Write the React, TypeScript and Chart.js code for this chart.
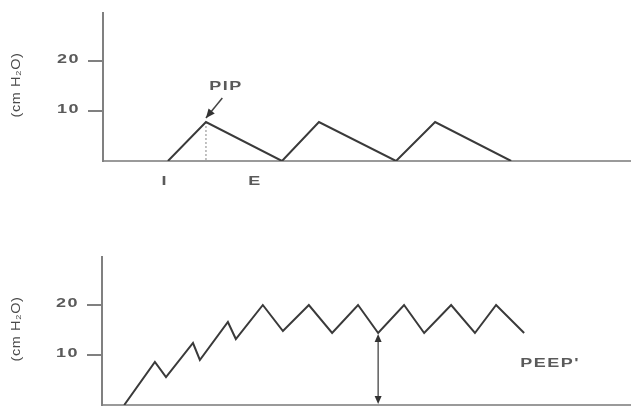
import React, { useEffect, useRef } from "react";
import { Chart, registerables } from "chart.js";

Chart.register(...registerables);

// ---- data ----
const yTicks = [10, 20];
const yTitle = "(cm H₂O)";

// top panel: PIP waveform
const topTimes = [1.23, 1.95, 3.39, 4.09, 5.55, 6.29, 7.73];
const topPressure = [0, 7.8, 0, 7.8, 0, 7.8, 0];
const pipTime = 1.95;
const pipPressure = 7.8;
const phaseLabels = ["I", "E"];
const phaseTimes = [1.17, 2.88];

// bottom panel: breath stacking / auto-PEEP
const bottomTimes = [0.42, 1.0, 1.21, 1.72, 1.85, 2.38, 2.53, 3.04, 3.42, 3.91, 4.35, 4.84, 5.22, 5.71, 6.09, 6.6, 7.05, 7.45, 7.98];
const bottomPressure = [0, 8.6, 5.6, 12.4, 9.0, 16.6, 13.2, 20, 14.8, 20, 14.4, 20, 14.4, 20, 14.4, 20, 14.4, 20, 14.4];
const peepTime = 5.22;
const peepPressure = 14.4;

const FONT = "'Liberation Sans', Arial, sans-serif";
const LINE = "#3a3a3a";
const AXIS = "#808080";
const TEXT = "#5a5a5a";

function wideText(
  ctx: CanvasRenderingContext2D,
  text: string,
  x: number,
  y: number,
  opts: { size?: number; sx?: number; align?: CanvasTextAlign; rot?: number; spacing?: number; color?: string; weight?: string } = {}
) {
  const { size = 12, sx = 1.5, align = "center", rot = 0, spacing = 1, color = TEXT, weight = "bold" } = opts;
  ctx.save();
  ctx.translate(x, y);
  if (rot) ctx.rotate(rot);
  ctx.scale(sx, 1);
  ctx.font = `${weight} ${size}px ${FONT}`;
  (ctx as any).letterSpacing = `${spacing}px`;
  ctx.fillStyle = color;
  ctx.textAlign = align;
  ctx.textBaseline = "middle";
  ctx.fillText(text, 0, 0);
  ctx.restore();
}

function arrowHead(ctx: CanvasRenderingContext2D, x1: number, y1: number, x2: number, y2: number, len = 8, half = 3.5) {
  const a = Math.atan2(y2 - y1, x2 - x1);
  ctx.beginPath();
  ctx.moveTo(x2, y2);
  ctx.lineTo(x2 - len * Math.cos(a) + half * Math.sin(a), y2 - len * Math.sin(a) - half * Math.cos(a));
  ctx.lineTo(x2 - len * Math.cos(a) - half * Math.sin(a), y2 - len * Math.sin(a) + half * Math.cos(a));
  ctx.closePath();
  ctx.fill();
}

// y tick labels and axis title drawn with a stretched font
const axisText = {
  id: "axisText",
  afterDraw(chart: any) {
    const { ctx, scales, chartArea } = chart;
    const y = scales.y;
    y.ticks.forEach((t: any) => {
      wideText(ctx, String(t.value), chartArea.left - 23, y.getPixelForValue(t.value) - 1, { align: "right" });
    });
    wideText(ctx, yTitle, 17, (chartArea.top + chartArea.bottom) / 2 - 2, {
      size: 12,
      sx: 1.2,
      rot: -Math.PI / 2,
      spacing: 0.5,
      weight: "normal",
      color: "#4a4a4a",
    });
  },
};

function makeOptions(padTop: number, xAxisHeight: number, yAxisWidth: number): any {
  return {
    animation: false,
    responsive: false,
    layout: { padding: { top: padTop, left: 0, right: 0, bottom: 0 } },
    plugins: { legend: { display: false }, tooltip: { enabled: false } },
    scales: {
      x: {
        type: "linear",
        min: 0,
        max: 10,
        ticks: { display: false },
        grid: { display: true, drawOnChartArea: false, drawTicks: false },
        border: { display: true, color: "#9a9a9a", width: 2 },
        afterFit: (s: any) => {
          s.height = xAxisHeight;
          s.paddingLeft = 0;
          s.paddingRight = 0;
        },
      },
      y: {
        type: "linear",
        min: 0,
        max: 29.6,
        afterBuildTicks: (s: any) => {
          s.ticks = yTicks.map((v) => ({ value: v }));
        },
        ticks: { color: "rgba(0,0,0,0)", font: { family: FONT, size: 12 }, padding: 7 },
        grid: { drawOnChartArea: false, drawTicks: true, tickLength: 15, color: AXIS, lineWidth: 2 },
        border: { display: true, color: AXIS, width: 2 },
        title: { display: false },
        afterFit: (s: any) => {
          s.width = yAxisWidth;
          s.paddingTop = 0;
          s.paddingBottom = 0;
        },
      },
    },
  };
}

const topAnnotations = {
  id: "topAnnotations",
  afterDatasetsDraw(chart: any) {
    const { ctx, scales } = chart;
    const x = scales.x, y = scales.y;
    wideText(ctx, "PIP", x.getPixelForValue(pipTime + 0.38), y.getPixelForValue(pipPressure + 7));
    phaseLabels.forEach((l, i) => {
      wideText(ctx, l, x.getPixelForValue(phaseTimes[i]), y.getPixelForValue(-4.2));
    });
    ctx.save();
    const x1 = x.getPixelForValue(pipTime + 0.31), y1 = y.getPixelForValue(pipPressure + 4.8);
    const x2 = x.getPixelForValue(pipTime + 0.0), y2 = y.getPixelForValue(pipPressure + 0.8);
    ctx.strokeStyle = "#444";
    ctx.fillStyle = "#333";
    ctx.lineWidth = 1.5;
    ctx.beginPath();
    ctx.moveTo(x1, y1);
    ctx.lineTo(x2, y2);
    ctx.stroke();
    arrowHead(ctx, x1, y1, x2, y2, 9, 4);
    ctx.restore();
  },
};

const bottomAnnotations = {
  id: "bottomAnnotations",
  afterDatasetsDraw(chart: any) {
    const { ctx, scales } = chart;
    const x = scales.x, y = scales.y;
    ctx.save();
    const px = x.getPixelForValue(peepTime);
    const yTop = y.getPixelForValue(peepPressure) + 1;
    const yBot = y.getPixelForValue(0) - 1;
    ctx.strokeStyle = "#444";
    ctx.fillStyle = "#333";
    ctx.lineWidth = 1.3;
    ctx.beginPath();
    ctx.moveTo(px, yTop + 4);
    ctx.lineTo(px, yBot - 4);
    ctx.stroke();
    arrowHead(ctx, px, yBot, px, yTop, 8, 3.5);
    arrowHead(ctx, px, yTop, px, yBot, 8, 3.5);
    ctx.restore();
    wideText(ctx, "PEEP'", x.getPixelForValue(8.47), y.getPixelForValue(8.2));
  },
};

export default function App() {
  const topRef = useRef<HTMLCanvasElement>(null);
  const botRef = useRef<HTMLCanvasElement>(null);

  useEffect(() => {
    const top = new Chart(topRef.current as HTMLCanvasElement, {
      type: "line",
      data: {
        datasets: [
          {
            data: topTimes.map((t, i) => ({ x: t, y: topPressure[i] })),
            borderColor: LINE,
            borderWidth: 2,
            pointRadius: 0,
            tension: 0,
          },
          {
            data: [
              { x: pipTime, y: pipPressure },
              { x: pipTime, y: 0 },
            ],
            borderColor: "#9a9a9a",
            borderWidth: 1.2,
            borderDash: [2, 2],
            pointRadius: 0,
          },
        ],
      },
      options: makeOptions(13, 39, 103),
      plugins: [topAnnotations, axisText],
    } as any);
    const bottom = new Chart(botRef.current as HTMLCanvasElement, {
      type: "line",
      data: {
        datasets: [
          {
            data: bottomTimes.map((t, i) => ({ x: t, y: bottomPressure[i] })),
            borderColor: LINE,
            borderWidth: 2,
            pointRadius: 0,
            tension: 0,
          },
        ],
      },
      options: makeOptions(17, 2, 102),
      plugins: [bottomAnnotations, axisText],
    } as any);
    return () => {
      top.destroy();
      bottom.destroy();
    };
  }, []);

  return (
    <div style={{ position: "fixed", left: 0, top: 0, width: 631, height: 407, background: "#fff", overflow: "hidden" }}>
      <canvas ref={topRef} width={631} height={200} style={{ position: "absolute", left: 0, top: 0 }} />
      <canvas ref={botRef} width={631} height={167} style={{ position: "absolute", left: 0, top: 240 }} />
    </div>
  );
}
